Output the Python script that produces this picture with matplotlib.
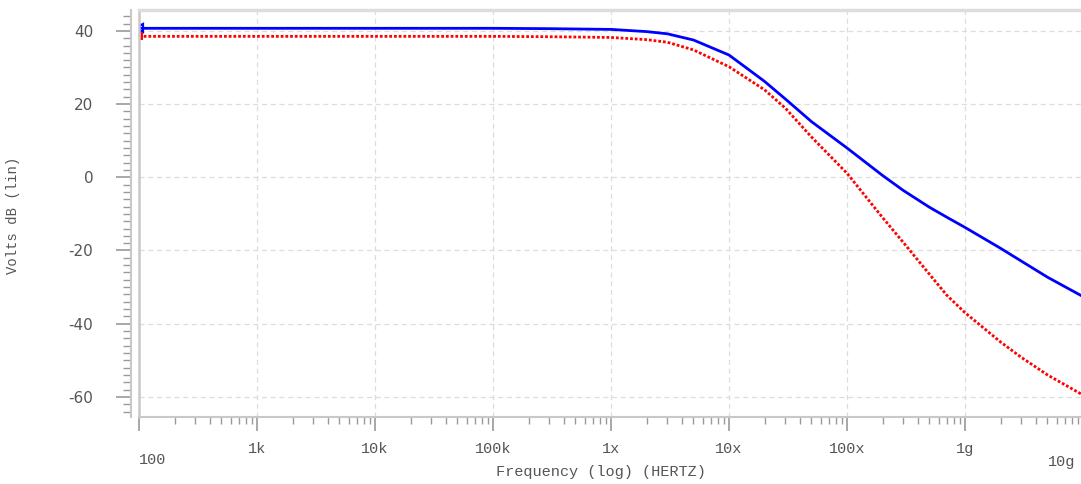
import matplotlib
matplotlib.use("Agg")
import matplotlib.pyplot as plt
from matplotlib.lines import Line2D
from matplotlib.transforms import ScaledTranslation
from matplotlib.ticker import LogLocator, MultipleLocator, NullFormatter

# ---- data ----
freq = [1e2, 1e3, 1e4, 1e5, 3e5, 1e6, 2e6, 3e6, 5e6, 1e7, 2e7, 3e7, 5e7,
        1e8, 2e8, 3e8, 5e8, 7e8, 1e9, 2e9, 3e9, 5e9, 1e10]
blue_db = [40.7, 40.7, 40.7, 40.7, 40.6, 40.4, 39.8, 39.2, 37.5, 33.4, 26.2, 21.4, 15.2,
           8.0, 0.5, -3.6, -8.2, -10.9, -13.7, -19.4, -22.9, -27.3, -32.6]
red_db = [38.5, 38.5, 38.5, 38.5, 38.4, 38.2, 37.6, 36.9, 34.8, 30.2, 23.9, 18.9, 11.0,
          1.1, -11.0, -17.8, -26.5, -32.2, -37.0, -45.0, -49.2, -54.0, -59.5]

x_ticks = [1e2, 1e3, 1e4, 1e5, 1e6, 1e7, 1e8, 1e9, 1e10]
x_labels = ['100', '1k', '10k', '100k', '1x', '10x', '100x', '1g', '10g']
y_ticks = [40, 20, 0, -20, -40, -60]
y_labels = ['40', '20', '0', '-20', '-40', '-60']

FONT = 'Liberation Mono'
TXT = '#555555'
FRAME = '#c8c8c8'

fig = plt.figure(figsize=(10.81, 4.84), dpi=100)
ax = fig.add_axes([139/1081, 1 - 417/484, (1083 - 139)/1081, (417 - 10)/484])
ax.set_xscale('log')
ax.set_xlim(1e2, 1e10)
ax.set_ylim(-65.5, 45.7)

ax.plot(freq, blue_db, color='#0000ff', lw=2.0, solid_capstyle='butt')
ax.plot(freq, red_db, color='#ff0000', lw=2.0, linestyle=(0, (1, 0.7)))
ax.plot(freq[:1], blue_db[:1], marker='<', color='#0000ff', ms=6, mfc='none', mew=1.6)
ax.plot(freq[:1], red_db[:1], marker='s', color='#ff0000', ms=4, mfc='none', mew=1.4)

# ticks (edge labels drawn separately, staggered like the reference)
ax.set_xticks(x_ticks)
ax.set_xticklabels([''] + x_labels[1:-1] + [''])
ax.xaxis.set_minor_locator(LogLocator(base=10, subs=range(2, 10), numticks=50))
ax.xaxis.set_minor_formatter(NullFormatter())
ax.set_yticks(y_ticks)
ax.set_yticklabels(y_labels)
ax.yaxis.set_minor_locator(MultipleLocator(2))

ax.tick_params(axis='both', which='major', colors='#999999', labelcolor=TXT,
               labelsize=11, width=1.2)
ax.tick_params(axis='x', which='major', length=10, pad=8)
ax.tick_params(axis='x', which='minor', length=5, width=1.0, colors='#999999')
ax.tick_params(axis='y', which='major', length=11, pad=16)
ax.tick_params(axis='y', which='minor', length=6, width=1.0, colors='#999999')
for lab in ax.get_xticklabels() + ax.get_yticklabels():
    lab.set_fontfamily(FONT)

xt = ax.get_xaxis_transform()
ax.text(x_ticks[0], 0, x_labels[0], fontfamily=FONT, fontsize=11, color=TXT,
        ha='left', va='center',
        transform=xt + ScaledTranslation(0, -43/100, fig.dpi_scale_trans))
ax.text(x_ticks[-1], 0, x_labels[-1], fontfamily=FONT, fontsize=11, color=TXT,
        ha='right', va='center',
        transform=xt + ScaledTranslation(-8/100, -45/100, fig.dpi_scale_trans))

# grid
ax.grid(True, which='major', color='#dddddd', linestyle=(0, (4, 3)), lw=0.9)
ax.set_axisbelow(True)

# frame
ax.spines['right'].set_visible(False)
ax.spines['top'].set_color('#dddddd')
ax.spines['top'].set_linewidth(2.5)
ax.spines['bottom'].set_color(FRAME)
ax.spines['bottom'].set_linewidth(1.5)
ax.spines['left'].set_color(FRAME)
ax.spines['left'].set_linewidth(1.5)
ax.spines['left'].set_position(('outward', 6))
ax.add_artist(Line2D([0, 0], [0, 1], transform=ax.transAxes, color=FRAME, lw=1.8,
                     clip_on=False))

ax.set_xlabel('Frequency (log) (HERTZ)', fontfamily=FONT, fontsize=11, color=TXT)
ax.xaxis.set_label_coords((601 - 139) / 944, (417 - 465) / 407)
ax.set_ylabel('Volts dB (lin)', fontfamily=FONT, fontsize=10, color=TXT)
ax.yaxis.set_label_coords((20 - 139) / 944, (417 - 215) / 407)

fig.savefig('out.png', dpi=100)
